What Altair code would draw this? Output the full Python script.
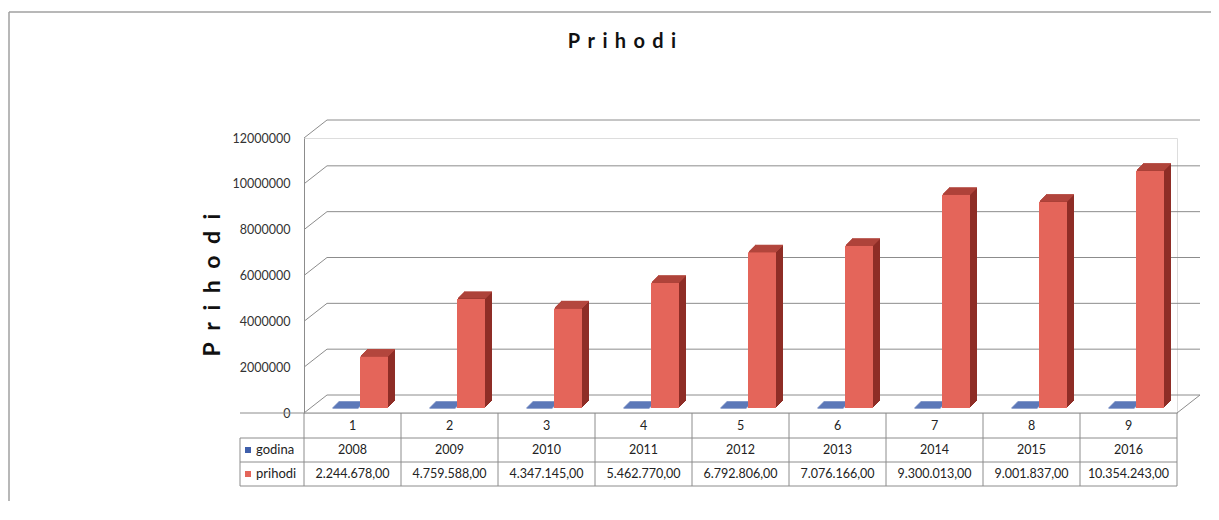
import altair as alt
import pandas as pd

# ---------------- data ----------------
categories = ["1", "2", "3", "4", "5", "6", "7", "8", "9"]
godina = [2008, 2009, 2010, 2011, 2012, 2013, 2014, 2015, 2016]
prihodi = [2244678, 4759588, 4347145, 5462770, 6792806, 7076166, 9300013, 9001837, 10354243]
y_ticks = [0, 2000000, 4000000, 6000000, 8000000, 10000000, 12000000]
series_names = ["godina", "prihodi"]
chart_title = "Prihodi"
axis_title = "Prihodi"


def fmt_hr(v):
    s = f"{v:,.2f}"
    return s.replace(",", "X").replace(".", ",").replace("X", ".")


df = pd.DataFrame({
    "cat": categories,
    "godina": godina,
    "prihodi": prihodi,
    "godina_txt": [str(g) for g in godina],
    "prihodi_txt": [fmt_hr(v) for v in prihodi],
})
grid_df = pd.DataFrame({"v": y_ticks})
zero_df = pd.DataFrame({"v": [0]})
one_df = pd.DataFrame({"a": [0]})

# ---------------- style / layout ----------------
W, H = 873, 275
DX, DY = 23, -18          # depth of the 3D box
FONT = "Lato"
GRID = "#8c8c8c"
RED_FRONT = "#e4655a"
RED_SIDE = "#8e2d26"
RED_TOP = "#b4473e"
BLUE = "#3f5fab"
BAR_W = 28
BAR_DX = 21.5
BLUE_W = 26
BLUE_DX = -7
LIFT = -5
DEPTH = 7

xscale = alt.Scale(type="band", domain=categories, paddingInner=0, paddingOuter=0)
yscale = alt.Scale(domain=[0, 12000000], nice=False, zero=True)
yaxis = alt.Axis(values=y_ticks, format="d", title=None, grid=False, ticks=False,
                 labelPadding=14, labelFont=FONT, labelFontSize=12.5, labelColor="#333",
                 domain=True, domainColor=GRID, domainWidth=1)


def X(**kw):
    return alt.X("cat:N", scale=xscale, axis=None, **kw)


def Y(field):
    return alt.Y(f"{field}:Q", scale=yscale, axis=yaxis)


layers = []

# outer chart frame
frame = alt.Chart(one_df)
layers.append(frame.mark_rule(color="#a0a0a0", strokeWidth=1.5).encode(
    x=alt.value(-295), x2=alt.value(930), y=alt.value(-126)))
layers.append(frame.mark_rule(color="#a0a0a0", strokeWidth=1.5).encode(
    x=alt.value(-295), y=alt.value(-126), y2=alt.value(400)))

# back wall gridlines
layers.append(alt.Chart(grid_df).mark_rule(color=GRID, strokeWidth=1, yOffset=DY).encode(
    y=Y("v"), x=alt.value(DX), x2=alt.value(W + DX)))
# side wall slants
layers.append(alt.Chart(grid_df).mark_rule(color=GRID, strokeWidth=1, y2Offset=DY).encode(
    y=Y("v"), y2=alt.Y2("v"), x=alt.value(0), x2=alt.value(DX)))
# floor edges
layers.append(alt.Chart(zero_df).mark_rule(color=GRID, strokeWidth=1).encode(
    y=Y("v"), x=alt.value(-64), x2=alt.value(W)))
layers.append(alt.Chart(zero_df).mark_rule(color=GRID, strokeWidth=1, y2Offset=DY).encode(
    y=Y("v"), y2=alt.Y2("v"), x=alt.value(W), x2=alt.value(W + DX)))

base = alt.Chart(df)

# blue (godina) flat bars on the floor
for k in range(0, DEPTH):
    layers.append(base.mark_tick(color=BLUE, size=BLUE_W, thickness=1.2, opacity=1,
                                 xOffset=BLUE_DX + k, yOffset=LIFT - k).encode(
        x=X(), y=Y("godina")))

# red bars: side extrusion
for k in range(1, DEPTH + 1):
    layers.append(base.mark_bar(color=RED_SIDE, width=BAR_W, opacity=1,
                                xOffset=BAR_DX + k, yOffset=LIFT - k, y2Offset=LIFT - k).encode(
        x=X(), y=Y("prihodi"), y2=alt.datum(0)))
# red bars: top face
for k in range(1, DEPTH + 1):
    layers.append(base.mark_tick(color=RED_TOP, size=BAR_W, thickness=1.2, opacity=1,
                                 xOffset=BAR_DX + k, yOffset=LIFT - k).encode(
        x=X(), y=Y("prihodi")))
# red bars: front face
layers.append(base.mark_bar(color=RED_FRONT, width=BAR_W, opacity=1,
                            xOffset=BAR_DX, yOffset=LIFT, y2Offset=LIFT).encode(
    x=X(), y=Y("prihodi"), y2=alt.datum(0),
    tooltip=["cat", "godina", "prihodi"]))

# ---------------- data table ----------------
ROW_TOP, ROW1, ROW2, ROW3 = 275, 300, 324, 348
layers.append(base.mark_rule(color=GRID).encode(
    x=X(bandPosition=0), y=alt.value(ROW_TOP), y2=alt.value(ROW3)))
layers.append(frame.mark_rule(color=GRID).encode(
    x=alt.value(W), y=alt.value(ROW_TOP), y2=alt.value(ROW3)))
layers.append(frame.mark_rule(color=GRID).encode(
    x=alt.value(-64), y=alt.value(ROW1), y2=alt.value(ROW3)))
for yy in (ROW1, ROW2, ROW3):
    layers.append(frame.mark_rule(color=GRID).encode(
        x=alt.value(-64), x2=alt.value(W), y=alt.value(yy)))

txt = dict(font=FONT, fontSize=12.5, color="#222", baseline="middle", align="center")
layers.append(base.mark_text(**txt).encode(x=X(), y=alt.value((ROW_TOP + ROW1) / 2), text="cat:N"))
layers.append(base.mark_text(**txt).encode(x=X(), y=alt.value((ROW1 + ROW2) / 2), text="godina_txt:N"))
layers.append(base.mark_text(**txt).encode(x=X(), y=alt.value((ROW2 + ROW3) / 2), text="prihodi_txt:N"))

# row labels with colour keys
leg_df = pd.DataFrame({"name": series_names, "color": [BLUE, RED_FRONT],
                       "ypos": [(ROW1 + ROW2) / 2, (ROW2 + ROW3) / 2]})
layers.append(alt.Chart(leg_df).mark_square(size=36, opacity=1).encode(
    x=alt.value(-56), y=alt.Y("ypos:Q", scale=None), color=alt.Color("color:N", scale=None)))
layers.append(alt.Chart(leg_df).mark_text(font=FONT, fontSize=13, color="#222",
                                          align="left", baseline="middle").encode(
    x=alt.value(-48), y=alt.Y("ypos:Q", scale=None), text="name:N"))

# titles
spaced = "\u2009 ".join(list(chart_title))
layers.append(frame.mark_text(font=FONT, fontSize=20, fontWeight="bold", color="#111",
                              align="center", baseline="middle", text=spaced).encode(
    x=alt.value(318), y=alt.value(-96)))
spaced_y = "\u2002".join(list(axis_title))
layers.append(frame.mark_text(font=FONT, fontSize=23, fontWeight="bold", color="#111",
                              align="center", baseline="middle", angle=270, text=spaced_y).encode(
    x=alt.value(-91), y=alt.value(147)))

chart = alt.layer(*layers).properties(
    width=W, height=H,
    autosize=alt.AutoSizeParams(type="none"),
    padding={"left": 296, "top": 130, "right": 34, "bottom": 88},
).configure_view(stroke=None).configure(background="white")

chart.save("out.html", embed_options={"renderer": "svg", "actions": False})
